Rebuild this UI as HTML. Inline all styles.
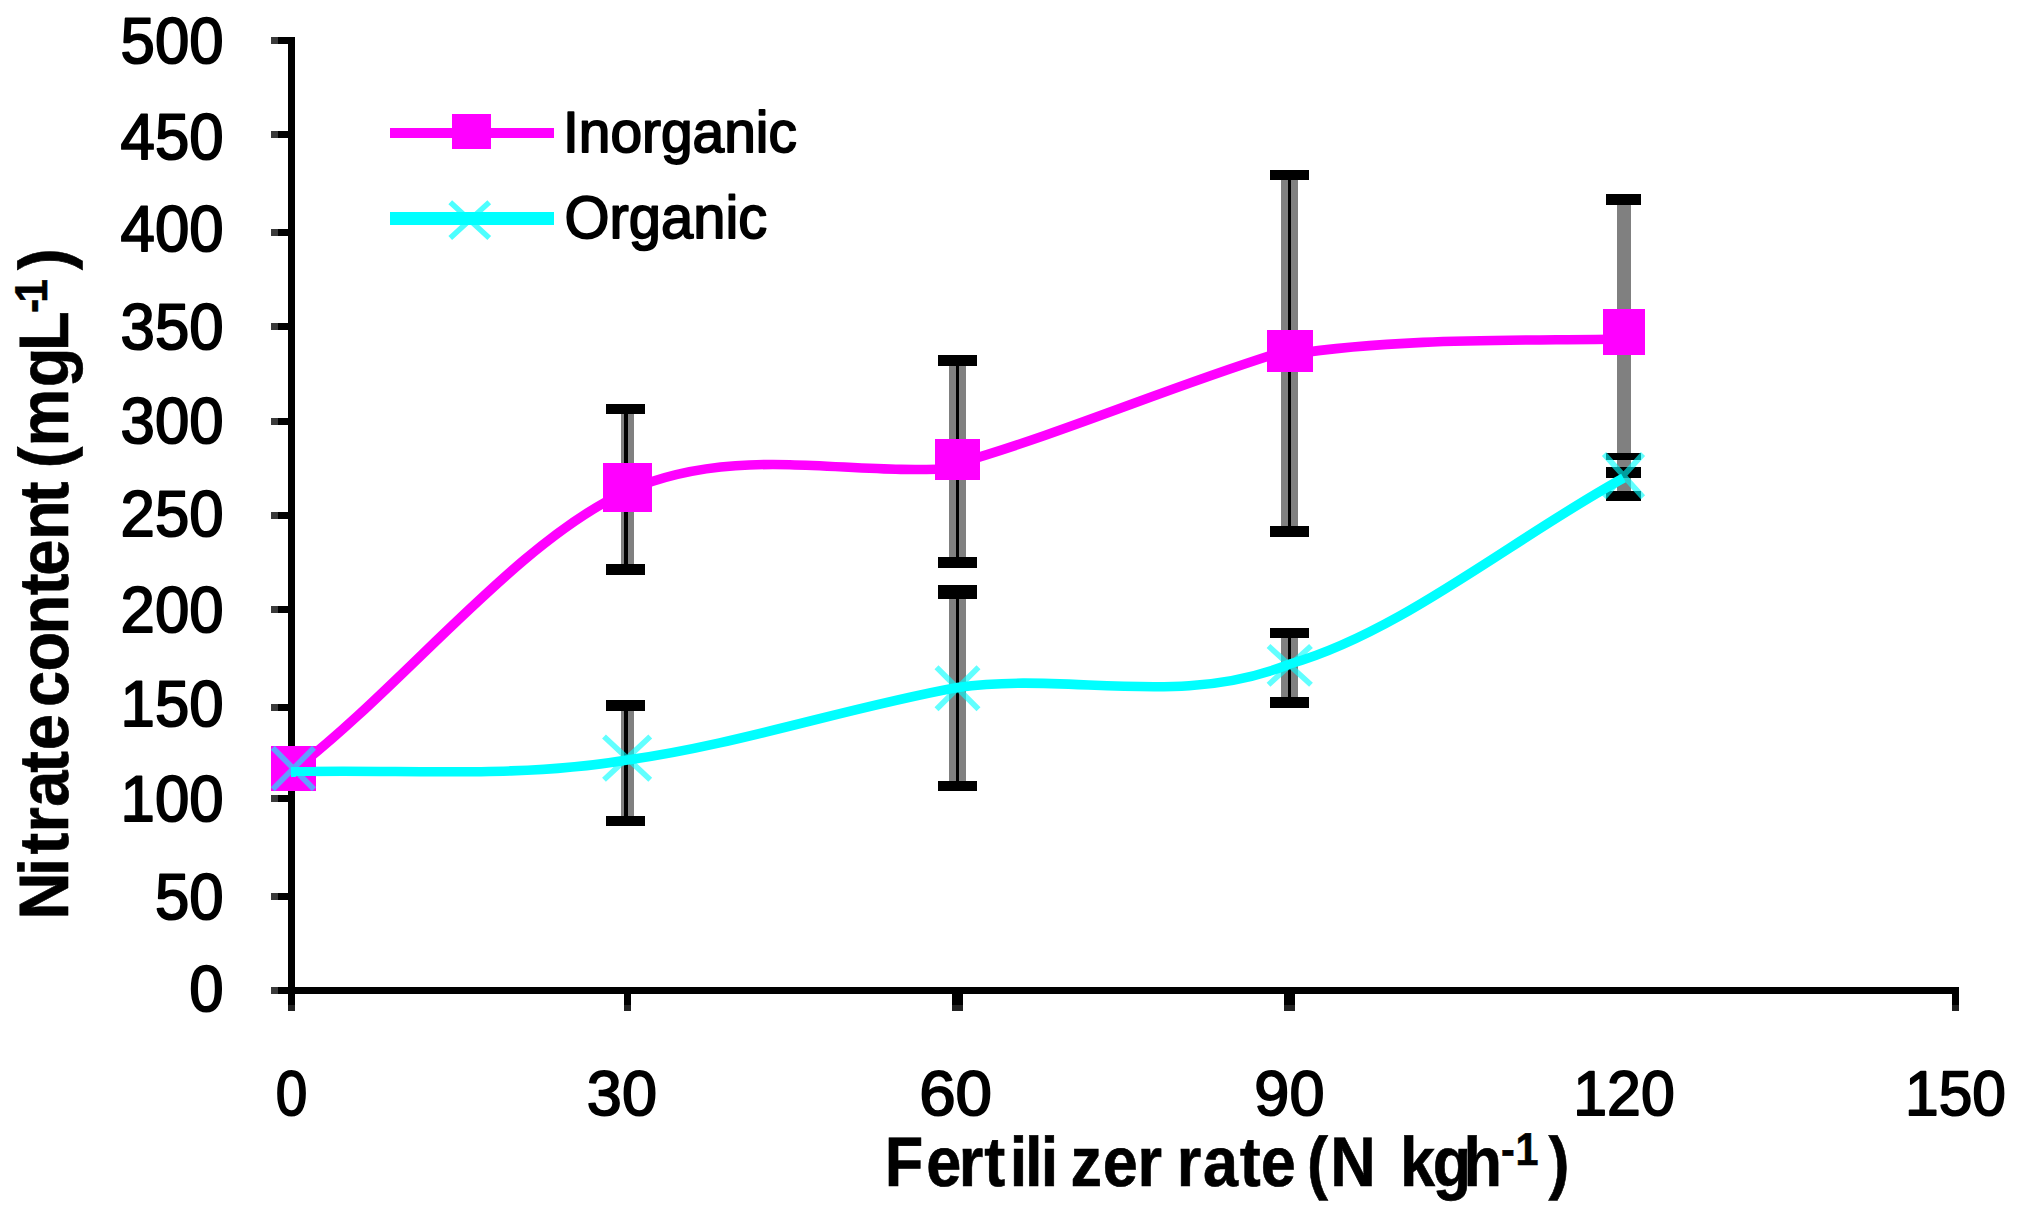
<!DOCTYPE html>
<html lang="en"><head><meta charset="utf-8"><title>Nitrate content vs fertilizer rate</title>
<style>
html,body{margin:0;padding:0;background:#fff;}
body{width:2019px;height:1208px;overflow:hidden;}
svg{display:block;}
</style></head>
<body>
<svg width="2019" height="1208" viewBox="0 0 2019 1208" shape-rendering="crispEdges" text-rendering="geometricPrecision">
<rect width="2019" height="1208" fill="#fff"/>
<g id="axes">
<rect x="288.00" y="37.00" width="7.00" height="974.00" fill="#000" />
<rect x="271.00" y="986.70" width="1687.50" height="7.30" fill="#000" />
<rect x="277.50" y="37.05" width="11.50" height="7.40" fill="#000" />
<rect x="270.70" y="37.05" width="6.80" height="7.40" fill="#3a3a3a" />
<rect x="277.50" y="130.80" width="11.50" height="7.40" fill="#000" />
<rect x="270.70" y="130.80" width="6.80" height="7.40" fill="#3a3a3a" />
<rect x="277.50" y="228.80" width="11.50" height="7.40" fill="#000" />
<rect x="270.70" y="228.80" width="6.80" height="7.40" fill="#3a3a3a" />
<rect x="277.50" y="323.05" width="11.50" height="7.40" fill="#000" />
<rect x="270.70" y="323.05" width="6.80" height="7.40" fill="#3a3a3a" />
<rect x="277.50" y="417.55" width="11.50" height="7.40" fill="#000" />
<rect x="270.70" y="417.55" width="6.80" height="7.40" fill="#3a3a3a" />
<rect x="277.50" y="511.80" width="11.50" height="7.40" fill="#000" />
<rect x="270.70" y="511.80" width="6.80" height="7.40" fill="#3a3a3a" />
<rect x="277.50" y="605.90" width="11.50" height="7.40" fill="#000" />
<rect x="270.70" y="605.90" width="6.80" height="7.40" fill="#3a3a3a" />
<rect x="277.50" y="703.80" width="11.50" height="7.40" fill="#000" />
<rect x="270.70" y="703.80" width="6.80" height="7.40" fill="#3a3a3a" />
<rect x="277.50" y="794.80" width="11.50" height="7.40" fill="#000" />
<rect x="270.70" y="794.80" width="6.80" height="7.40" fill="#3a3a3a" />
<rect x="277.50" y="892.55" width="11.50" height="7.40" fill="#000" />
<rect x="270.70" y="892.55" width="6.80" height="7.40" fill="#3a3a3a" />
<rect x="277.50" y="986.60" width="11.50" height="7.40" fill="#000" />
<rect x="270.70" y="986.60" width="6.80" height="7.40" fill="#3a3a3a" />
<rect x="623.75" y="993.00" width="7.00" height="11.50" fill="#000" />
<rect x="623.75" y="1004.50" width="7.00" height="6.80" fill="#222" />
<rect x="951.75" y="993.00" width="10.75" height="11.50" fill="#000" />
<rect x="951.75" y="1004.50" width="10.75" height="6.80" fill="#222" />
<rect x="1284.25" y="993.00" width="10.75" height="11.50" fill="#000" />
<rect x="1284.25" y="1004.50" width="10.75" height="6.80" fill="#222" />
<rect x="1951.50" y="993.00" width="7.00" height="11.50" fill="#000" />
<rect x="1951.50" y="1004.50" width="7.00" height="6.80" fill="#222" />
<rect x="288.00" y="1004.50" width="7.00" height="6.80" fill="#222" />
</g>
<g id="errorbars">
<rect x="620.50" y="403.75" width="13.75" height="171.25" fill="#808080" />
<rect x="623.75" y="403.75" width="3.75" height="171.25" fill="#000" />
<rect x="620.50" y="700.25" width="13.75" height="126.00" fill="#808080" />
<rect x="623.75" y="700.25" width="3.75" height="126.00" fill="#000" />
<rect x="606.25" y="403.75" width="38.75" height="10.50" fill="#000" />
<rect x="606.25" y="564.25" width="38.75" height="10.75" fill="#000" />
<rect x="606.25" y="700.25" width="38.75" height="10.75" fill="#000" />
<rect x="606.25" y="815.50" width="38.75" height="10.75" fill="#000" />
<rect x="949.25" y="355.00" width="17.00" height="213.00" fill="#808080" />
<rect x="955.75" y="355.00" width="3.50" height="213.00" fill="#000" />
<rect x="949.25" y="585.00" width="17.00" height="206.25" fill="#808080" />
<rect x="955.75" y="585.00" width="3.50" height="206.25" fill="#000" />
<rect x="938.25" y="355.00" width="38.75" height="10.50" fill="#000" />
<rect x="938.25" y="557.00" width="38.75" height="11.00" fill="#000" />
<rect x="938.25" y="585.00" width="38.75" height="14.00" fill="#000" />
<rect x="938.25" y="780.75" width="38.75" height="10.50" fill="#000" />
<rect x="1281.25" y="169.50" width="17.00" height="367.00" fill="#808080" />
<rect x="1288.00" y="169.50" width="3.25" height="367.00" fill="#000" />
<rect x="1281.25" y="627.50" width="17.00" height="80.00" fill="#808080" />
<rect x="1288.00" y="627.50" width="3.25" height="80.00" fill="#000" />
<rect x="1270.25" y="169.50" width="38.50" height="10.50" fill="#000" />
<rect x="1270.25" y="526.00" width="38.50" height="10.50" fill="#000" />
<rect x="1270.25" y="627.50" width="38.50" height="10.25" fill="#000" />
<rect x="1270.25" y="697.00" width="38.50" height="10.50" fill="#000" />
<rect x="1616.50" y="194.00" width="14.00" height="283.50" fill="#808080" />
<rect x="1616.50" y="452.50" width="14.00" height="48.75" fill="#808080" />
<rect x="1605.75" y="194.00" width="35.50" height="10.50" fill="#000" />
<rect x="1605.75" y="466.75" width="35.50" height="10.75" fill="#000" />
<rect x="1605.75" y="452.50" width="35.50" height="7.00" fill="#000" />
<rect x="1605.75" y="490.75" width="35.50" height="10.50" fill="#000" />
</g>
<g id="series" fill="none" stroke-linecap="butt" stroke-linejoin="round" shape-rendering="geometricPrecision">
<path d="M293.4,770.5 C404.6,685.1 515.8,541.9 627,491 C737.2,442.8 847.3,476.9 957.5,468 M957.5,463.5 C1068.2,431.6 1179.0,383.0 1289.75,349.5 M1289.75,354.5 C1401.0,337.8 1512.2,340.9 1623.5,339" stroke="#ff00ff" stroke-width="9.6"/>
<path d="M293.4,771.75 C404.6,769.0 515.8,778.7 627,760 C737.2,744.8 847.3,707.5 957.5,687.5 C1068.2,671.4 1179.0,708.6 1289.75,664 C1401.0,632.2 1512.2,539.1 1623.5,478" stroke="#00ffff" stroke-width="9.6"/>
</g>
<g id="markers">
<rect x="271.25" y="746.25" width="44.25" height="44.50" fill="#ff00ff" />
<rect x="602.50" y="463.00" width="49.25" height="49.00" fill="#ff00ff" />
<rect x="935.00" y="438.75" width="45.00" height="41.25" fill="#ff00ff" />
<rect x="1267.00" y="330.00" width="45.50" height="42.00" fill="#ff00ff" />
<rect x="1602.50" y="309.00" width="42.00" height="46.00" fill="#ff00ff" />
<path d="M272.75,747.75 L314.0,789.25 M314.0,747.75 L272.75,789.25" stroke="#00ffff" stroke-opacity="0.62" stroke-width="5.6" fill="none" shape-rendering="geometricPrecision"/>
<path d="M604.0,736.5 L650.25,779.75 M650.25,736.5 L604.0,779.75" stroke="#00ffff" stroke-opacity="0.62" stroke-width="5.6" fill="none" shape-rendering="geometricPrecision"/>
<path d="M936.5,667.25 L978.5,709.25 M978.5,667.25 L936.5,709.25" stroke="#00ffff" stroke-opacity="0.62" stroke-width="5.6" fill="none" shape-rendering="geometricPrecision"/>
<path d="M1268.5,646.0 L1311.0,684.75 M1311.0,646.0 L1268.5,684.75" stroke="#00ffff" stroke-opacity="0.62" stroke-width="5.6" fill="none" shape-rendering="geometricPrecision"/>
<path d="M1604.0,454.0 L1643.0,497.25 M1643.0,454.0 L1604.0,497.25" stroke="#00ffff" stroke-opacity="0.62" stroke-width="5.6" fill="none" shape-rendering="geometricPrecision"/>
<path d="M291,771.75 L330,771.4" stroke="#00ffff" stroke-width="9.6" fill="none"/>
</g>
<g id="legend">
<rect x="389.50" y="127.50" width="164.25" height="10.50" fill="#ff00ff" />
<rect x="452.00" y="113.75" width="38.75" height="35.00" fill="#ff00ff" />
<rect x="389.50" y="211.75" width="164.25" height="13.25" fill="#00ffff" />
<path d="M450.25,202.25 L489.25,238.0 M489.25,202.25 L450.25,238.0" stroke="#00ffff" stroke-opacity="0.7" stroke-width="5.5" fill="none" shape-rendering="geometricPrecision"/>
</g>
<g font-family="'Liberation Sans', Arial, Helvetica, sans-serif" fill="#000" stroke="#000" stroke-width="1.8" stroke-linejoin="round">
<text transform="translate(223.6,62.8) scale(0.95,1)" font-size="65" text-anchor="end">500</text>
<text transform="translate(223.6,158.7) scale(0.95,1)" font-size="65" text-anchor="end">450</text>
<text transform="translate(223.6,251.0) scale(0.95,1)" font-size="65" text-anchor="end">400</text>
<text transform="translate(223.6,349.3) scale(0.95,1)" font-size="65" text-anchor="end">350</text>
<text transform="translate(223.6,443.4) scale(0.95,1)" font-size="65" text-anchor="end">300</text>
<text transform="translate(223.6,536.1) scale(0.95,1)" font-size="65" text-anchor="end">250</text>
<text transform="translate(223.6,631.8) scale(0.95,1)" font-size="65" text-anchor="end">200</text>
<text transform="translate(223.6,726.4) scale(0.95,1)" font-size="65" text-anchor="end">150</text>
<text transform="translate(223.6,820.8) scale(0.95,1)" font-size="65" text-anchor="end">100</text>
<text transform="translate(223.6,918.8) scale(0.95,1)" font-size="65" text-anchor="end">50</text>
<text transform="translate(223.6,1011.0) scale(0.95,1)" font-size="65" text-anchor="end">0</text>
<text transform="translate(291.6,1115.4) scale(0.9,1)" font-size="63" text-anchor="middle">0</text>
<text transform="translate(621.9,1115.4) scale(1.0,1)" font-size="63" text-anchor="middle">30</text>
<text transform="translate(955.6,1115.4) scale(1.04,1)" font-size="63" text-anchor="middle">60</text>
<text transform="translate(1289.4,1115.4) scale(1.0,1)" font-size="63" text-anchor="middle">90</text>
<text transform="translate(1624,1115.4) scale(0.965,1)" font-size="63" text-anchor="middle">120</text>
<text transform="translate(1955.5,1115.4) scale(0.96,1)" font-size="63" text-anchor="middle">150</text>
<text transform="translate(563,152) scale(0.98,1)" font-size="58">Inorganic</text>
<text transform="translate(564.5,238.3) scale(0.965,1)" font-size="60">Organic</text>
</g>
<g font-family="'Liberation Sans', Arial, Helvetica, sans-serif" font-weight="bold" fill="#000" stroke="#000" stroke-width="0.6">
<text transform="translate(0,1186) scale(0.9,1)" font-size="70" xml:space="preserve"><tspan x="983.0 1029.3 1065.4 1093.6 1122.0 1138.9 1156.4 1189.5 1225.4 1264.0 1299.0 1307.4 1336.8 1377.5 1400.9 1435.9 1452.2 1478.1 1513.1 1555.7 1591.9 1626.1">Fertilizer rate (N kgh</tspan><tspan x="1667.9 1684.0" dy="-21" font-size="46">-1</tspan><tspan x="1720.6" dy="21">)</tspan></text>
<text transform="translate(68,917) rotate(-90) scale(0.93,1)" font-size="70" xml:space="preserve"><tspan x="-2.7 44.2 67.1 90.9 118.5 155.1 179.3 214.3 225.9 264.0 303.8 346.0 366.9 405.4 444.8 479.8 482.5 505.8 569.7 608.5">Nitrate content (mgL</tspan><tspan x="649.4 660.6" dy="-21" font-size="46">-1</tspan><tspan x="695.8" dy="21">)</tspan></text>
</g>
</svg>
</body></html>
